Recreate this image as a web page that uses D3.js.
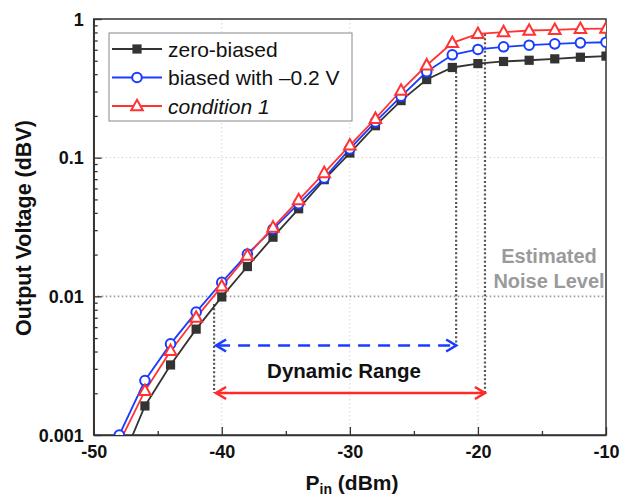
<!DOCTYPE html>
<html><head><meta charset="utf-8">
<script src="https://cdn.jsdelivr.net/npm/d3@7"></script>
<style>body{margin:0;background:#fff}svg{display:block;font-family:"Liberation Sans",Arial,sans-serif}</style>
</head><body><svg id="c" width="636" height="498"></svg>
<script>
const pin = [-48,-46,-44,-42,-40,-38,-36,-34,-32,-30,-28,-26,-24,-22,-20,-18,-16,-14,-12,-10];
const zeroBiased = [0.00059,0.00162,0.0032,0.0058,0.0099,0.0164,0.0267,0.0428,0.0694,0.108,0.170,0.258,0.366,0.447,0.477,0.494,0.504,0.516,0.530,0.540];
const biased02 = [0.001,0.00247,0.00454,0.00769,0.0126,0.0202,0.0305,0.0466,0.0713,0.1156,0.181,0.277,0.416,0.552,0.603,0.630,0.647,0.662,0.673,0.680];
const condition1 = [0.00088,0.00208,0.00404,0.00703,0.0118,0.0197,0.0314,0.0495,0.0776,0.1227,0.191,0.305,0.464,0.673,0.782,0.804,0.826,0.835,0.849,0.852];
const seriesNames = ["zero-biased","biased with \u20130.2 V","condition 1"];
const xTicks = [-50,-40,-30,-20,-10];
const xTickLabels = ["-50","-40","-30","-20","-10"];
const xMinor = [-45,-35,-25,-15];
const yTicks = [0.001,0.01,0.1,1];
const yTickLabels = ["0.001","0.01","0.1","1"];
const noiseLevel = 0.01;
const dynLeft = -40.6, dynRightBlue = -21.7, dynRightRed = -19.45;

const svg = d3.select("#c");
const L=93.7, R=606, T=19, B=435;
const x = d3.scaleLinear().domain([-50,-10]).range([L,R]);
const y = d3.scaleLog().domain([0.001,1]).range([B,T]);

svg.append("defs").append("clipPath").attr("id","clip")
  .append("rect").attr("x",L).attr("y",T).attr("width",R-L).attr("height",B-T);

// grid
const grid = svg.append("g");
[-40,-30,-20].forEach(v=>grid.append("line").attr("x1",x(v)).attr("x2",x(v)).attr("y1",T).attr("y2",B)
  .attr("stroke","#d4d4d4").attr("stroke-width",1).attr("stroke-dasharray","1.5,2.5"));
[0.1].forEach(v=>grid.append("line").attr("x1",L).attr("x2",R).attr("y1",y(v)).attr("y2",y(v))
  .attr("stroke","#d4d4d4").attr("stroke-width",1).attr("stroke-dasharray","1.5,2.5"));
// noise level
grid.append("line").attr("x1",L).attr("x2",R).attr("y1",y(noiseLevel)).attr("y2",y(noiseLevel))
  .attr("stroke","#999").attr("stroke-width",1.6).attr("stroke-dasharray","1.6,2.4");

// axes
const minorY = [];
for (let d=0.001; d<1; d*=10) for (let k=2;k<=9;k++) minorY.push(d*k);
const gx = svg.append("g").attr("transform",`translate(0,${B})`)
  .call(d3.axisBottom(x).tickValues(xTicks).tickFormat((d,i)=>xTickLabels[i]).tickSizeInner(-8).tickSizeOuter(0).tickPadding(10));
svg.append("g").attr("transform",`translate(0,${B})`)
  .call(d3.axisBottom(x).tickValues(xMinor).tickFormat("").tickSizeInner(-4).tickSizeOuter(0))
  .select(".domain").remove();
const gy = svg.append("g").attr("transform",`translate(${L},0)`)
  .call(d3.axisLeft(y).tickValues(yTicks).tickFormat((d,i)=>yTickLabels[i]).tickSizeInner(-8).tickSizeOuter(0).tickPadding(10));
svg.append("g").attr("transform",`translate(${L},0)`)
  .call(d3.axisLeft(y).tickValues(minorY).tickFormat("").tickSizeInner(-4).tickSizeOuter(0))
  .select(".domain").remove();
svg.selectAll(".tick line").attr("stroke","#333").attr("stroke-width",1.3);
svg.selectAll(".domain").attr("stroke","#333").attr("stroke-width",1.5);
svg.selectAll(".tick text").attr("font-size",18).attr("font-weight","bold").attr("fill","#111")
  .attr("font-family","'Liberation Sans',Arial,sans-serif");
gy.selectAll(".tick text").attr("dy","0.35em");
// frame
svg.append("rect").attr("x",L).attr("y",T).attr("width",R-L).attr("height",B-T)
  .attr("fill","none").attr("stroke","#333").attr("stroke-width",1.5);

// annotations: dotted verticals
const ann = svg.append("g");
const dotted = (xv,y1,y2)=>ann.append("line").attr("x1",x(xv)).attr("x2",x(xv)).attr("y1",y1).attr("y2",y2)
  .attr("stroke","#555").attr("stroke-width",2.2).attr("stroke-dasharray","2,2.2");
const yBlueArrow = 345.5, yRedArrow = 393;
dotted(dynLeft, y(0.0088), yRedArrow);
dotted(dynRightBlue, y(0.447), yBlueArrow);
dotted(dynRightRed, y(0.78), yRedArrow);

function arrow(x1,x2,yy,color,dash){
  ann.append("line").attr("x1",x1+2).attr("x2",x2-2).attr("y1",yy).attr("y2",yy)
    .attr("stroke",color).attr("stroke-width",2.6).attr("stroke-dasharray",dash||null);
  [[x1,1],[x2,-1]].forEach(([px,s])=>{
    ann.append("path").attr("d",`M${px+s*10},${yy-6}L${px},${yy}L${px+s*10},${yy+6}`)
      .attr("fill","none").attr("stroke",color).attr("stroke-width",2.6).attr("stroke-linejoin","miter");
  });
}
arrow(x(dynLeft)+2, x(dynRightBlue), yBlueArrow, "#1a3cff", "12,8");
arrow(x(dynLeft)+2, x(dynRightRed), yRedArrow, "#ff2a2a");
ann.append("text").attr("x",344).attr("y",378).attr("text-anchor","middle")
  .attr("font-size",20.5).attr("font-weight","bold").attr("fill","#111").text("Dynamic Range");
const nt = ann.append("text").attr("text-anchor","middle").attr("font-size",20).attr("font-weight","bold").attr("fill","#9a9a9a");
nt.append("tspan").attr("x",549).attr("y",263).text("Estimated");
nt.append("tspan").attr("x",549).attr("y",288).text("Noise Level");

// series
const colors = ["#333333","#1a3cff","#ff3333"];
const datasets = [zeroBiased, biased02, condition1];
const line = d3.line().x((d,i)=>x(pin[i])).y(d=>y(d));
const plot = svg.append("g").attr("clip-path","url(#clip)");
function marker(g,k,cx,cy){
  if(k===0) g.append("rect").attr("x",cx-4.6).attr("y",cy-4.6).attr("width",9.2).attr("height",9.2).attr("fill",colors[0]);
  else if(k===1) g.append("circle").attr("cx",cx).attr("cy",cy).attr("r",4.8).attr("fill","#fff").attr("stroke",colors[1]).attr("stroke-width",2);
  else g.append("path").attr("d",`M${cx},${cy-6.3}L${cx+5.8},${cy+4.2}L${cx-5.8},${cy+4.2}Z`).attr("fill","#fff").attr("stroke",colors[2]).attr("stroke-width",2).attr("stroke-linejoin","miter");
}
datasets.forEach((ds,k)=>{
  plot.append("path").datum(ds).attr("d",line).attr("fill","none").attr("stroke",colors[k]).attr("stroke-width",1.8);
});
datasets.forEach((ds,k)=>{
  const g = plot.append("g");
  ds.forEach((v,i)=>marker(g,k,x(pin[i]),y(v)));
});

// legend
const lg = svg.append("g");
lg.append("rect").attr("x",109).attr("y",33).attr("width",243).attr("height",88)
  .attr("fill","#fff").attr("stroke","#888").attr("stroke-width",1);
seriesNames.forEach((n,k)=>{
  const yy = 49 + k*28.5;
  lg.append("line").attr("x1",112).attr("x2",162).attr("y1",yy).attr("y2",yy).attr("stroke",colors[k]).attr("stroke-width",1.8);
  marker(lg,k,137,yy);
  lg.append("text").attr("x",168).attr("y",yy+7.5).attr("font-size",21).attr("fill","#111")
    .attr("font-style",k===2?"italic":null).text(n);
});

// titles
const xt = svg.append("text").attr("x",352).attr("y",490).attr("text-anchor","middle")
  .attr("font-size",21).attr("font-weight","bold").attr("fill","#111");
xt.append("tspan").text("P");
xt.append("tspan").attr("font-size",14).attr("dy",4).text("in");
xt.append("tspan").attr("dy",-4).text(" (dBm)");
svg.append("text").attr("transform","translate(31,228) rotate(-90)").attr("text-anchor","middle")
  .attr("font-size",21.5).attr("font-weight","bold").attr("fill","#111").text("Output Voltage (dBV)");
</script></body></html>
